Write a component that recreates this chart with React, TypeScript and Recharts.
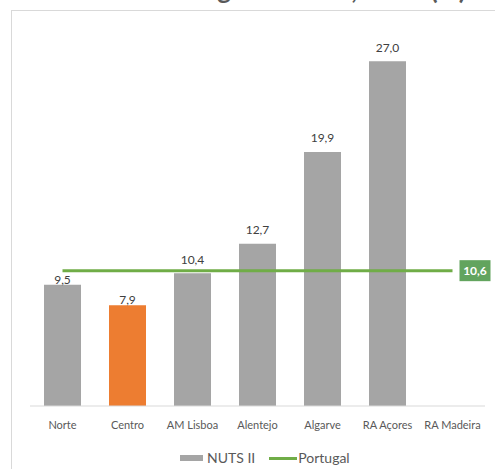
import { ComposedChart, Bar, Line, XAxis, YAxis, Cell, LabelList } from "recharts";

const REGIONS = ["Norte", "Centro", "AM Lisboa", "Alentejo", "Algarve", "RA Açores", "RA Madeira"];
const NUTS_VALUES: (number | null)[] = [9.5, 7.9, 10.4, 12.7, 19.9, 27.0, null];
const PORTUGAL_VALUES = [10.6, 10.6, 10.6, 10.6, 10.6, 10.6, 10.6];
const HIGHLIGHT_REGION = "Centro";
const TITLE = "Abandono escolar: Região Centro, 2019 (%)";

const GREY = "#A5A5A5";
const ORANGE = "#ED7D31";
const GREEN = "#70AD47";
const TEXT = "#595959";
const FONT = "Lato, 'Open Sans', sans-serif";

// labels that sit under the Portugal line are kept closer to their bars
const LABEL_LIFT: Record<string, number> = { Norte: 5, Centro: 6 };

const data = REGIONS.map((region, i) => ({
  region,
  nuts: NUTS_VALUES[i],
  portugal: PORTUGAL_VALUES[i],
}));

function fmt(v: number): string {
  return v.toFixed(1).replace(".", ",");
}

function BarValueLabel(props: any) {
  const { x, y, width, value, index } = props;
  if (value == null) return null;
  const lift = LABEL_LIFT[REGIONS[index]] ?? 14;
  return (
    <text
      x={x + width / 2}
      y={y - lift}
      textAnchor="middle"
      dominantBaseline="central"
      fontSize={12}
      fontFamily={FONT}
      fill="#404040"
    >
      {fmt(value)}
    </text>
  );
}

function PortugalLabel(props: any) {
  const { x, y, value, index } = props;
  if (index !== REGIONS.length - 1) return null;
  return (
    <g>
      <rect x={x + 7} y={y - 10.5} width={31} height={21} fill="#62A45E" />
      <text
        x={x + 22.5}
        y={y}
        textAnchor="middle"
        dominantBaseline="central"
        fontSize={12}
        fontWeight="bold"
        fontFamily={FONT}
        fill="#FFFFFF"
      >
        {fmt(value)}
      </text>
    </g>
  );
}

export default function App() {
  return (
    <div
      style={{
        position: "fixed",
        left: 0,
        top: 0,
        width: 495,
        height: 469,
        overflow: "hidden",
        background: "#fff",
        fontFamily: FONT,
      }}
    >
      <div
        style={{
          position: "absolute",
          left: 11,
          top: 10,
          width: 520,
          height: 500,
          border: "1px solid #D9D9D9",
        }}
      />
      <svg style={{ position: "absolute", left: 0, top: 0 }} width={495} height={20}>
        <text x={466} y={-1} textAnchor="end" fontSize={26} fontWeight="bold" fontFamily={FONT} fill={TEXT}>
          {TITLE}
        </text>
      </svg>
      <div style={{ position: "absolute", left: 0, top: 0 }}>
        <ComposedChart
          width={495}
          height={469}
          data={data}
          margin={{ top: 23, right: 10, left: 30, bottom: 0 }}
        >
          <XAxis
            dataKey="region"
            height={63}
            axisLine={{ stroke: "#D9D9D9" }}
            tickLine={false}
            tickMargin={9}
            interval={0}
            tick={{ fontSize: 11, fill: TEXT, fontFamily: FONT }}
          />
          <YAxis hide domain={[0, 30]} />
          <Bar dataKey="nuts" barSize={37} isAnimationActive={false}>
            {data.map((d) => (
              <Cell key={d.region} fill={d.region === HIGHLIGHT_REGION ? ORANGE : GREY} />
            ))}
            <LabelList dataKey="nuts" content={BarValueLabel} />
          </Bar>
          <Line
            dataKey="portugal"
            stroke={GREEN}
            strokeWidth={3}
            dot={false}
            activeDot={false}
            isAnimationActive={false}
          >
            <LabelList dataKey="portugal" content={PortugalLabel} />
          </Line>
        </ComposedChart>
      </div>
      <div
        style={{
          position: "absolute",
          left: 180,
          top: 449,
          display: "flex",
          alignItems: "center",
          fontSize: 14,
          color: TEXT,
          lineHeight: "18px",
        }}
      >
        <span style={{ display: "inline-block", width: 23, height: 6, background: GREY, marginRight: 4 }} />
        <span style={{ marginRight: 14 }}>NUTS II</span>
        <span style={{ display: "inline-block", width: 28, height: 3, background: GREEN, marginRight: 1 }} />
        <span>Portugal</span>
      </div>
    </div>
  );
}
